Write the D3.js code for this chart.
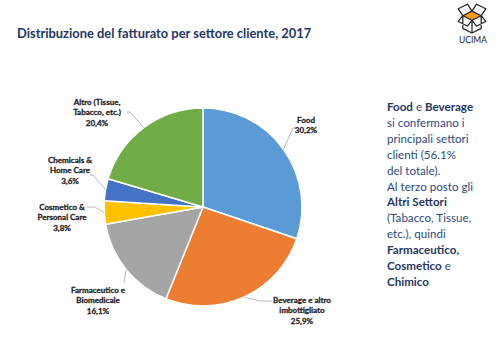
<!DOCTYPE html>
<html>
<head>
<meta charset="utf-8">
<script src="https://cdn.jsdelivr.net/npm/d3@7"></script>
<style>
  body { margin: 0; background: #fff; }
  svg { display: block; }
</style>
</head>
<body>
<div id="container"></div>
<script>
// data
const sectors = ['Food', 'Beverage e altro imbottigliato', 'Farmaceutico e Biomedicale',
    'Cosmetico & Personal Care', 'Chemicals & Home Care', 'Altro (Tissue, Tabacco, etc.)'];
const shares = [30.2, 25.9, 16.1, 3.8, 3.6, 20.4];
const labelLines = [
    ['Food'],
    ['Beverage e altro', 'imbottigliato'],
    ['Farmaceutico e', 'Biomedicale'],
    ['Cosmetico &', 'Personal Care'],
    ['Chemicals &', 'Home Care'],
    ['Altro (Tissue,', 'Tabacco, etc.)']
];
const colors = ['#5b9bd5', '#ed7d31', '#a5a5a5', '#ffc000', '#4472c4', '#70ad47'];

// label placement relative to pie centre: text centre of first line, leader elbow, leader end
const labelPos = [
    { tx: 103, ty: -87, bx: 90, by: -79, ex: 94, ey: -79 },
    { tx: 99, ty: 93, bx: 56, by: 94, ex: 69, ey: 94 },
    { tx: -105, ty: 83, bx: -79, by: 76, ex: -79, ey: 76 },
    { tx: -141, ty: 0, bx: -108, by: 0, ex: -116, ey: 0 },
    { tx: -133, ty: -47, bx: -110, by: -32, ex: -113, ey: -32 },
    { tx: -106, ty: -105, bx: -73, by: -95, ex: -76, ey: -95 }
];

const W = 500, H = 349;
const svg = d3.select('#container')
    .append('svg')
    .attr('width', W)
    .attr('height', H)
    .attr('viewBox', `0 0 ${W} ${H}`);

const font = 'Lato, "Open Sans", sans-serif';
const navy = '#1f3864';

// title
svg.append('text')
    .attr('x', 17)
    .attr('y', 38)
    .attr('font-family', font)
    .attr('font-weight', 'bold')
    .attr('font-size', 12.9)
    .attr('fill', navy)
    .text('Distribuzione del fatturato per settore cliente, 2017');

// pie
const cx = 203, cy = 207, r = 99;
const pie = d3.pie().sort(null).value(d => d)(shares);
const arc = d3.arc().innerRadius(0).outerRadius(r);

const g = svg.append('g').attr('transform', `translate(${cx},${cy})`);
g.selectAll('path.slice')
    .data(pie)
    .enter()
    .append('path')
    .attr('class', 'slice')
    .attr('d', arc)
    .attr('fill', (d, i) => colors[i])
    .attr('stroke', '#fff')
    .attr('stroke-width', 1.5)
    .attr('stroke-linejoin', 'round');

// leader lines
const fmt = v => d3.format('.1f')(v).replace('.', ',') + '%';
g.selectAll('polyline.leader')
    .data(pie)
    .enter()
    .append('polyline')
    .attr('class', 'leader')
    .attr('points', (d, i) => {
        const a = (d.startAngle + d.endAngle) / 2;
        const p = labelPos[i];
        return [[r * Math.sin(a), -r * Math.cos(a)], [p.bx, p.by], [p.ex, p.ey]].join(' ');
    })
    .attr('fill', 'none')
    .attr('stroke', '#a6a6a6')
    .attr('stroke-width', 0.8);

// labels
const lab = g.selectAll('text.lab')
    .data(pie)
    .enter()
    .append('text')
    .attr('class', 'lab')
    .attr('text-anchor', 'middle')
    .attr('font-family', font)
    .attr('font-weight', 'bold')
    .attr('font-size', 8)
    .attr('fill', '#262626')
    .attr('stroke', '#262626')
    .attr('stroke-width', 0.3);
lab.each(function (d, i) {
    const t = d3.select(this);
    const p = labelPos[i];
    const lines = labelLines[i].concat([fmt(shares[i])]);
    lines.forEach((s, k) => {
        t.append('tspan')
            .attr('x', p.tx)
            .attr('y', p.ty + k * 10.4 + 2.8)
            .text(s);
    });
});

// comment box on the right
const notes = [
    [['Food', 1], [' e ', 0], ['Beverage', 1]],
    [['si confermano i', 0]],
    [['principali settori', 0]],
    [['clienti (56.1%', 0]],
    [['del totale).', 0]],
    [['Al terzo posto gli', 0]],
    [['Altri Settori', 1]],
    [['(Tabacco, Tissue,', 0]],
    [['etc.), quindi', 0]],
    [['Farmaceutico,', 1]],
    [['Cosmetico', 1], [' e', 0]],
    [['Chimico', 1]]
];
const note = svg.append('text')
    .attr('font-family', font)
    .attr('font-size', 11.6)
    .attr('fill', navy);
notes.forEach((line, k) => {
    line.forEach((seg, j) => {
        const ts = note.append('tspan')
            .attr('font-weight', seg[1] ? 'bold' : 'normal')
            .attr('fill', seg[1] ? navy : '#2b4a86')
            .text(seg[0]);
        if (j === 0) ts.attr('x', 387).attr('y', 111 + k * 15.9);
    });
});

// UCIMA logo
const logo = svg.append('g').attr('transform', 'translate(472,18) scale(1.15)');
logo.append('path')
    .attr('d', 'M0,-6 L8,-2 L0,2 L-8,-2 Z')
    .attr('fill', '#f39c1f')
    .attr('stroke', '#222')
    .attr('stroke-width', 1.1)
    .attr('stroke-linejoin', 'round');
logo.append('path')
    .attr('d', 'M-8,-2 L-8,9 L0,13 L8,9 L8,-2 M0,2 L0,13 M-8,-2 L-12,-8 L-4,-12 L0,-6 L4,-12 L12,-8 L8,-2 M-8,-2 L-12,3 L-4,7 L0,2 L4,7 L12,3 L8,-2')
    .attr('fill', 'none')
    .attr('stroke', '#222')
    .attr('stroke-width', 1.1)
    .attr('stroke-linejoin', 'round');
svg.append('text')
    .attr('x', 473)
    .attr('y', 43)
    .attr('text-anchor', 'middle')
    .attr('font-family', font)
    .attr('font-size', 8.5)
    .attr('fill', '#222')
    .text('UCIMA');
</script>
</body>
</html>
